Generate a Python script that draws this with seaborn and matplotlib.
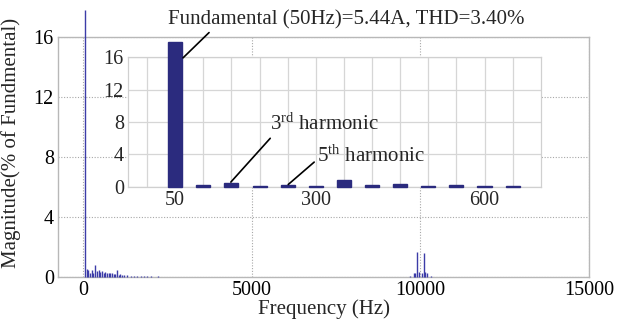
import matplotlib
matplotlib.use("Agg")
import matplotlib.pyplot as plt
import seaborn as sns
import pandas as pd

# Full spectrum of the phase current, % of fundamental
spectrum_hz = [50, 100, 150, 200, 250, 300, 350, 400, 450, 500, 550, 600, 650,
               700, 750, 800, 850, 900, 950, 1000, 1050, 1100, 1150, 1200, 1300,
               1400, 1500, 1600, 1700, 1800, 1900, 2000, 2200, 2400,
               9700, 9800, 9850, 9900, 9950, 10050, 10100, 10150, 10200, 10300]
spectrum_pct = [17.8, 0.55, 0.45, 0.25, 0.5, 0.3, 0.8, 0.4, 0.45, 0.35, 0.4, 0.3, 0.35,
                0.3, 0.3, 0.25, 0.25, 0.2, 0.2, 0.45, 0.15, 0.2, 0.15, 0.15, 0.12,
                0.1, 0.1, 0.08, 0.08, 0.06, 0.06, 0.05, 0.04, 0.03,
                0.08, 0.3, 0.25, 1.7, 0.35, 0.3, 1.6, 0.35, 0.25, 0.08]

# Harmonic orders 1..13 shown in the inset bar chart
harmonic_hz = [50, 100, 150, 200, 250, 300, 350, 400, 450, 500, 550, 600, 650]
harmonic_pct = [17.8, 0.3, 0.45, 0.1, 0.3, 0.1, 0.85, 0.25, 0.35, 0.12, 0.3, 0.12, 0.15]

main_yticks = [0, 4, 8, 12, 16]
main_xticks = [0, 5000, 10000, 15000]
inset_yticks = [0, 4, 8, 12, 16]
inset_xticks = [50, 300, 600]

sns.set_theme(style="white")
plt.rcParams["font.family"] = ["Liberation Serif", "DejaVu Serif"]
plt.rcParams["mathtext.fontset"] = "custom"
plt.rcParams["mathtext.rm"] = "Liberation Serif"
plt.rcParams["mathtext.it"] = "Liberation Serif:italic"

navy = "#2b2b7e"
frame = "#b8b8b8"
fs_tick = 14.5
fs_text = 15

fig = plt.figure(figsize=(6.18, 3.24), dpi=100)
ax = fig.add_axes([0.094, 0.145, 0.859, 0.741])

ax.vlines(spectrum_hz, 0, spectrum_pct, color="#3c3ca8", lw=1.0, clip_on=False, zorder=3)
ax.set_xlim(-750, 15000)
ax.set_ylim(0, 16)
ax.set_xticks(main_xticks)
ax.set_yticks(main_yticks)
ax.tick_params(labelsize=fs_tick, length=0, pad=3, colors="black")
ax.grid(True, axis="both", color="#a8a8a8", lw=0.8, ls=(0, (1, 1.5)))
for s in ax.spines.values():
    s.set_color(frame)
    s.set_linewidth(1.0)
ax.set_xlabel("Frequency (Hz)", fontsize=fs_text, labelpad=-1)
ax.set_ylabel("Magnitude(% of Fundmental)", fontsize=fs_text)
ax.yaxis.set_label_coords(-0.07, 0.56)

# Inset: harmonic bars up to the 13th order
ins = fig.add_axes([0.207, 0.423, 0.668, 0.401])
ins.set_facecolor("white")
df = pd.DataFrame({"freq": harmonic_hz, "pct": harmonic_pct})
sns.barplot(data=df, x="freq", y="pct", native_scale=True, color=navy,
            saturation=1, width=0.5, ax=ins, zorder=3)
for p in ins.patches:
    p.set_clip_on(False)
    p.set_edgecolor(navy)
ins.set_xlim(-34, 700)
ins.set_ylim(0, 16)
ins.set_xticks(range(0, 700, 50), minor=True)
ins.set_xticks(inset_xticks)
ins.set_yticks(inset_yticks)
ins.grid(True, which="both", axis="x", color="#d6d6d6", lw=0.9)
ins.grid(True, which="major", axis="y", color="#d6d6d6", lw=0.9)
ins.tick_params(which="both", length=0, labelsize=fs_tick, pad=3)
ins.set_xlabel("")
ins.set_ylabel("")
for s in ins.spines.values():
    s.set_color("#d0d0d0")
    s.set_linewidth(0.9)

ins.annotate("Fundamental (50Hz)=5.44A, THD=3.40%", xy=(64, 15.9), xytext=(37, 20.6),
             fontsize=fs_text, va="center", ha="left", annotation_clip=False,
             arrowprops=dict(arrowstyle="-", color="black", lw=1.2,
                             shrinkA=0, shrinkB=0, relpos=(0.125, 0.0)))
ins.annotate(r"3$^{\mathrm{rd}}$ harmonic", xy=(149, 0.6), xytext=(218, 7.7),
             fontsize=fs_text, va="center", ha="left", annotation_clip=False,
             arrowprops=dict(arrowstyle="-", color="black", lw=1.2,
                             shrinkA=0, shrinkB=0, relpos=(0.05, 0.1)))
ins.annotate(r"5$^{\mathrm{th}}$ harmonic", xy=(251, 0.3), xytext=(303, 3.8),
             fontsize=fs_text, va="center", ha="left", annotation_clip=False,
             arrowprops=dict(arrowstyle="-", color="black", lw=1.2,
                             shrinkA=0, shrinkB=0, relpos=(0.0, 0.35)))

fig.savefig("out.png", dpi=100)
